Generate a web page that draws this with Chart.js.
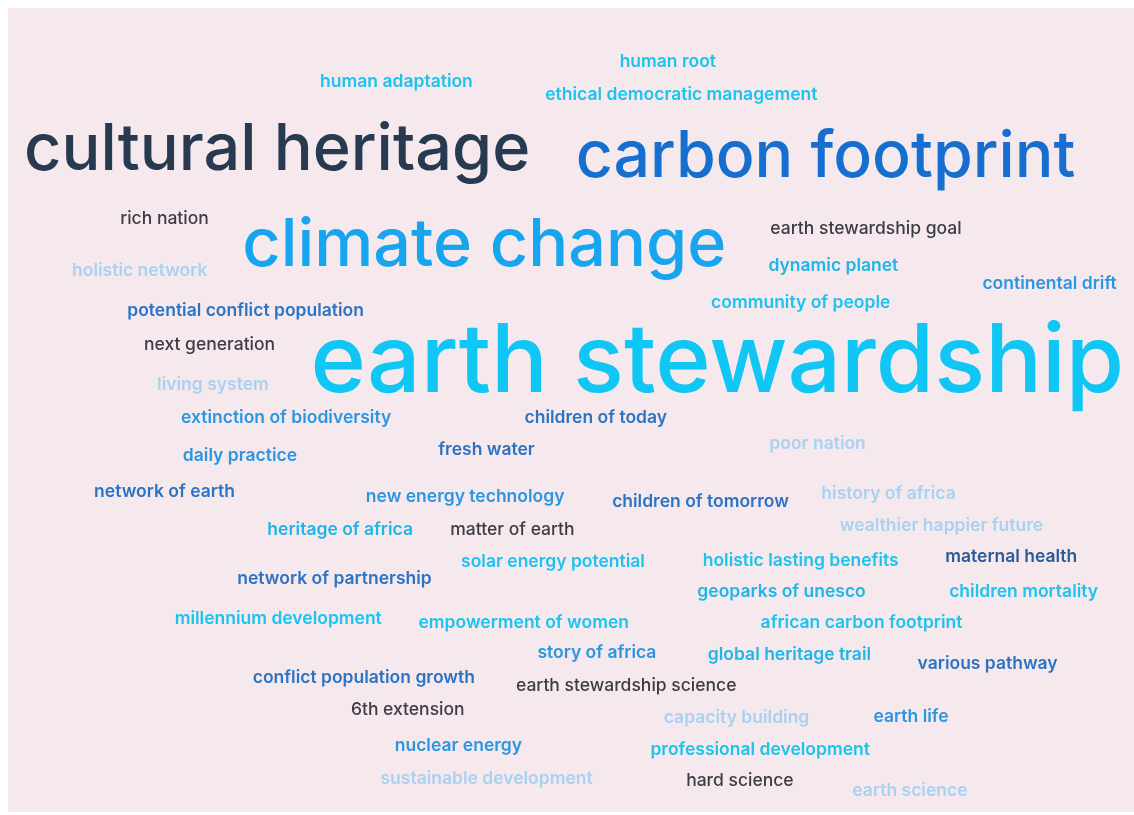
<!DOCTYPE html>
<html lang="en">
<head>
    <meta charset="UTF-8">
    <title>Earth Stewardship Word Cloud</title>
    <script src="https://cdn.jsdelivr.net/npm/chart.js"></script>
    <style>
        html, body { margin: 0; padding: 0; background: #ffffff; }
        #panel {
            position: absolute;
            left: 8px; top: 8px;
            width: 1126px; height: 804px;
            background: #f6e9ee;
        }
    </style>
</head>
<body>
    <div id="panel"><canvas id="chart"></canvas></div>

    <script>
        // words of the cloud, with their layout position (0-100 units) and weight
        const words = [
            'human root', 'human adaptation', 'ethical democratic management',
            'cultural heritage', 'carbon footprint', 'rich nation', 'climate change',
            'earth stewardship goal', 'holistic network', 'dynamic planet',
            'continental drift', 'community of people', 'potential conflict population',
            'next generation', 'earth stewardship', 'living system',
            'extinction of biodiversity', 'children of today', 'fresh water',
            'poor nation', 'daily practice', 'network of earth', 'new energy technology',
            'children of tomorrow', 'history of africa', 'heritage of africa',
            'matter of earth', 'wealthier happier future', 'solar energy potential',
            'holistic lasting benefits', 'maternal health', 'network of partnership',
            'geoparks of unesco', 'children mortality', 'millennium development',
            'empowerment of women', 'african carbon footprint', 'story of africa',
            'global heritage trail', 'various pathway', 'conflict population growth',
            'earth stewardship science', '6th extension', 'capacity building',
            'earth life', 'nuclear energy', 'professional development',
            'sustainable development', 'hard science', 'earth science'
        ];
        const xPos = [
            58.6, 34.5, 59.8,
            23.9, 72.6, 13.9, 42.3,
            76.2, 11.7, 73.3,
            92.5, 70.4, 21.1,
            17.9, 63.0, 18.2,
            24.7, 52.2, 42.5,
            71.9, 20.6, 13.9, 40.6,
            61.5, 78.2, 29.5,
            44.8, 82.9, 48.4,
            70.4, 89.1, 29.0,
            68.7, 90.2, 24.0,
            45.8, 75.8, 52.3,
            69.4, 87.0, 31.6,
            54.9, 35.5, 64.7,
            80.2, 40.0, 66.8,
            42.5, 65.0, 80.1
        ];
        const yPos = [
            6.7, 9.2, 10.8,
            17.7, 18.6, 26.2, 29.6,
            27.4, 32.7, 32.1,
            34.3, 36.7, 37.7,
            41.9, 44.2, 46.9,
            51.0, 51.0, 54.9,
            54.2, 55.7, 60.2, 60.8,
            61.4, 60.4, 64.9,
            64.9, 64.4, 68.9,
            68.7, 68.3, 71.0,
            72.6, 72.6, 75.9,
            76.4, 76.5, 80.2,
            80.5, 81.6, 83.3,
            84.3, 87.3, 88.3,
            88.1, 91.8, 92.2,
            95.9, 96.1, 97.4
        ];
        const weights = [
            1, 1, 1,
            3.7, 3.68, 1, 3.8,
            1, 1, 1,
            1, 1, 1,
            1, 5.4, 1,
            1, 1, 1,
            1, 1, 1, 1,
            1, 1, 1,
            1, 1, 1,
            1, 1, 1,
            1, 1, 1,
            1, 1, 1,
            1, 1, 1,
            1, 1, 1,
            1, 1, 1,
            1, 1, 1
        ];
        const groups = [
            'cyan', 'cyan', 'cyan',
            'navy', 'royal', 'gray', 'sky',
            'gray', 'pale', 'teal',
            'azure', 'cyan', 'blue',
            'gray', 'main', 'pale',
            'azure', 'blue', 'blue',
            'pale', 'azure', 'blue', 'azure',
            'blue', 'pale', 'teal',
            'gray', 'pale', 'cyan',
            'cyan', 'deep', 'blue',
            'teal', 'cyan', 'cyan',
            'cyan', 'cyan', 'azure',
            'teal', 'blue', 'blue',
            'gray', 'gray', 'pale',
            'azure', 'azure', 'cyan',
            'pale', 'gray', 'pale'
        ];

        const palette = {
            navy: '#283a50',
            royal: '#166fd0',
            sky: '#17a5ef',
            main: '#10c6f4',
            cyan: '#1bc3ee',
            teal: '#1fb5e6',
            azure: '#2a96e2',
            blue: '#2c73c4',
            deep: '#2b5a99',
            gray: '#3b3c46',
            pale: '#a9d1f1'
        };
        const BASE_SIZE = 17.5;
        const FONT = 'Inter, "Open Sans", sans-serif';

        const wordLabels = {
            id: 'wordLabels',
            afterDatasetsDraw(chart) {
                const ctx = chart.ctx;
                const meta = chart.getDatasetMeta(0);
                ctx.save();
                ctx.textAlign = 'center';
                ctx.textBaseline = 'middle';
                meta.data.forEach((pt, i) => {
                    const big = weights[i] > 1;
                    const fw = big || groups[i] === 'gray' ? 500 : 600;
                    ctx.font = `${fw} ${BASE_SIZE * weights[i]}px ${FONT}`;
                    ctx.fillStyle = palette[groups[i]];
                    ctx.fillText(words[i], pt.x, pt.y);
                });
                ctx.restore();
            }
        };

        new Chart(document.getElementById('chart'), {
            type: 'scatter',
            data: {
                datasets: [{
                    label: 'words',
                    data: words.map((w, i) => ({ x: xPos[i], y: yPos[i] })),
                    pointRadius: 0,
                    pointHoverRadius: 0
                }]
            },
            options: {
                responsive: true,
                maintainAspectRatio: false,
                animation: false,
                layout: { padding: 0 },
                plugins: {
                    legend: { display: false },
                    tooltip: { enabled: false }
                },
                scales: {
                    x: { type: 'linear', min: 0, max: 100, display: false },
                    y: { type: 'linear', min: 0, max: 100, reverse: true, display: false }
                }
            },
            plugins: [wordLabels]
        });
    </script>
</body>
</html>
